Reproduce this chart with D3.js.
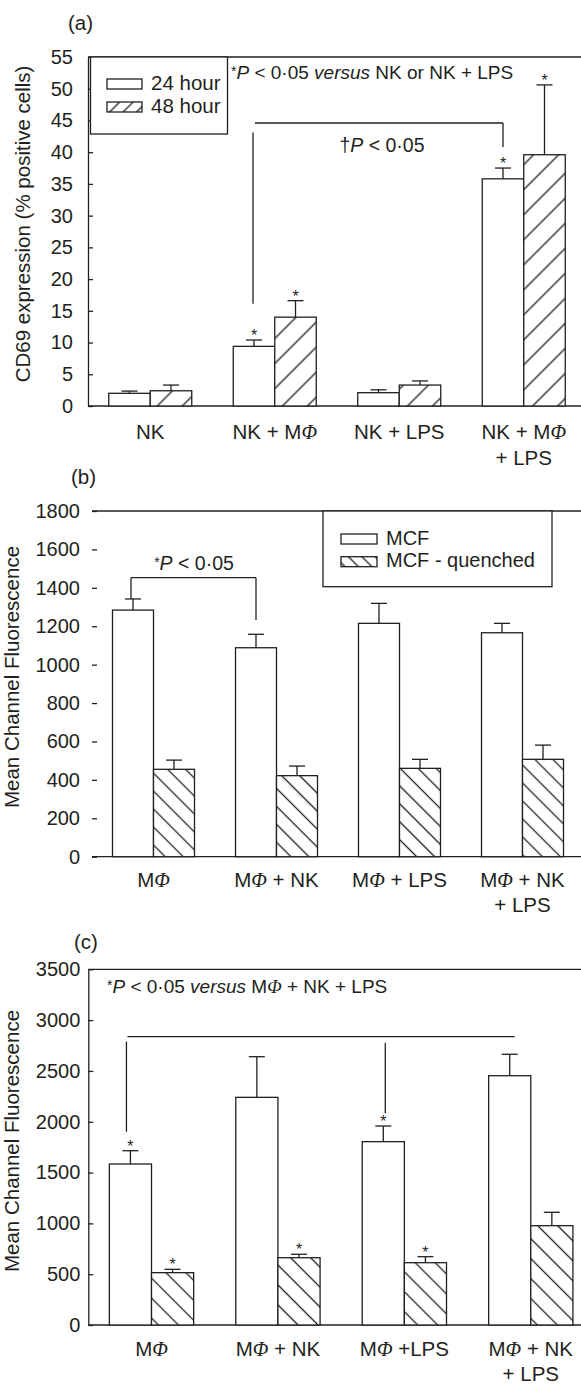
<!DOCTYPE html>
<html>
<head>
<meta charset="utf-8">
<script src="https://cdn.jsdelivr.net/npm/d3@7"></script>
<style>
  body { margin: 0; background: #fff; }
  text { font-family: "Liberation Sans", Arial, sans-serif; fill: #231f20; }
</style>
</head>
<body>
<svg id="chart"></svg>
<script>
// ---- panel (a): CD69 expression, % positive cells
const groupsA = ["NK", "NK + MΦ", "NK + LPS", "NK + MΦ + LPS"];
const labelsA = [["NK"], ["NK + MΦ"], ["NK + LPS"], ["NK + MΦ", "+ LPS"]];
const ticksA = [0, 5, 10, 15, 20, 25, 30, 35, 40, 45, 50, 55];
const h24 = [2.0, 9.4, 2.1, 35.8];
const h24Err = [0.35, 1.0, 0.45, 1.7];
const h24Star = [false, true, false, true];
const h48 = [2.4, 14.0, 3.3, 39.6];
const h48Err = [0.9, 2.6, 0.65, 11.0];
const h48Star = [false, true, false, true];

// ---- panel (b): mean channel fluorescence
const groupsB = ["MΦ", "MΦ + NK", "MΦ + LPS", "MΦ + NK + LPS"];
const labelsB = [["MΦ"], ["MΦ + NK"], ["MΦ + LPS"], ["MΦ + NK", "+ LPS"]];
const ticksB = [0, 200, 400, 600, 800, 1000, 1200, 1400, 1600, 1800];
const mcfB = [1284, 1088, 1215, 1166];
const mcfBErr = [58, 70, 104, 49];
const quenchB = [455, 422, 460, 507];
const quenchBErr = [48, 50, 47, 74];

// ---- panel (c): mean channel fluorescence
const groupsC = ["MΦ", "MΦ + NK", "MΦ +LPS", "MΦ + NK + LPS"];
const labelsC = [["MΦ"], ["MΦ + NK"], ["MΦ +LPS"], ["MΦ + NK", "+ LPS"]];
const ticksC = [0, 500, 1000, 1500, 2000, 2500, 3000, 3500];
const mcfC = [1584, 2240, 1804, 2453];
const mcfCErr = [131, 400, 154, 211];
const mcfCStar = [true, false, true, false];
const quenchC = [515, 662, 613, 977];
const quenchCErr = [33, 34, 59, 132];
const quenchCStar = [true, true, true, false];

const W = 581, H = 1384;
const ink = "#231f20";
const sw = 1.3;
const font = "'Liberation Sans', Arial, sans-serif";

const svg = d3.select("#chart").attr("width", W).attr("height", H);
svg.append("rect").attr("width", W).attr("height", H).attr("fill", "#fff");
const defs = svg.append("defs");

function hatch(id, gap, angle) {
  const p = defs.append("pattern")
    .attr("id", id)
    .attr("patternUnits", "userSpaceOnUse")
    .attr("width", gap).attr("height", gap)
    .attr("patternTransform", `rotate(${angle})`);
  p.append("rect").attr("width", gap).attr("height", gap).attr("fill", "#fff");
  p.append("line")
    .attr("x1", gap / 2).attr("x2", gap / 2)
    .attr("y1", 0).attr("y2", gap)
    .attr("stroke", ink).attr("stroke-width", sw);
}
hatch("fwdA", 17.7, 45);
hatch("fwdLeg", 9.5, 45);
hatch("backB", 12.7, -45);
hatch("backLeg", 9.5, -45);
hatch("backC", 14.1, -45);

// text made of pieces: {t, i (italic), serif, size, dy}
function rich(sel, parts) {
  parts.forEach(p => {
    const ts = sel.append("tspan").text(p.t);
    if (p.i) ts.attr("font-style", "italic");
    if (p.serif) ts.attr("font-family", "'Liberation Serif', serif");
    if (p.size) ts.attr("font-size", p.size);
    if (p.dy) ts.attr("dy", p.dy);
  });
  return sel;
}
// split a label so that the Φ is set in italic
function phiParts(str) {
  const out = [];
  str.split("Φ").forEach((s, k) => {
    if (k > 0) out.push({ t: "Φ", i: true, serif: true });
    if (s) out.push({ t: s });
  });
  return out;
}

function line(g, x1, y1, x2, y2) {
  return g.append("line")
    .attr("x1", x1).attr("y1", y1).attr("x2", x2).attr("y2", y2)
    .attr("stroke", ink).attr("stroke-width", sw);
}

function drawPanel(p) {
  const g = svg.append("g");
  const x = d3.scaleBand().domain(p.groups).range(p.xRange).paddingInner(1 / 3).paddingOuter(1 / 6);
  const xs = d3.scaleBand().domain(p.series.map(s => s.key)).range([0, x.bandwidth()]);
  const y = d3.scaleLinear().domain([0, p.yMax]).range(p.yRange);
  const left = p.xRange[0];

  // frame: top and bottom lines run to the right edge
  line(g, left, y(p.yMax), W, y(p.yMax));
  line(g, left, y(0), W, y(0));

  const ax = g.append("g")
    .attr("transform", `translate(${left},0)`)
    .call(d3.axisLeft(y).tickValues(p.ticks).tickFormat(d3.format("d"))
      .tickSizeInner(-5).tickSizeOuter(0).tickPadding(p.tickPad));
  ax.select(".domain").attr("stroke", p.axisLine ? ink : "none").attr("stroke-width", sw);
  ax.selectAll(".tick line").attr("stroke", ink).attr("stroke-width", sw);
  ax.selectAll(".tick text")
    .attr("font-size", 20).attr("font-family", font).attr("fill", ink);

  // y label
  g.append("text")
    .attr("transform", `translate(${p.yLabelX},${p.yLabelY}) rotate(-90)`)
    .attr("text-anchor", "middle")
    .attr("font-size", 20.5)
    .text(p.yLabel);

  // panel letter
  g.append("text").attr("x", p.letterX).attr("y", p.letterY).attr("font-size", 20.5).text(p.letter);

  // bars with upper error bars
  p.series.forEach(s => {
    const gs = g.append("g");
    const rows = p.groups.map((grp, i) => ({
      x0: x(grp) + xs(s.key),
      v: s.values[i],
      e: s.err[i],
      star: s.stars ? s.stars[i] : false
    }));
    const bw = xs.bandwidth();
    gs.selectAll("rect").data(rows).join("rect")
      .attr("x", d => d.x0).attr("y", d => y(d.v))
      .attr("width", bw).attr("height", d => y(0) - y(d.v))
      .attr("fill", s.fill).attr("stroke", ink).attr("stroke-width", sw);
    gs.selectAll(".err").data(rows).join("line").attr("class", "err")
      .attr("x1", d => d.x0 + bw / 2).attr("x2", d => d.x0 + bw / 2)
      .attr("y1", d => y(d.v)).attr("y2", d => y(d.v + d.e))
      .attr("stroke", ink).attr("stroke-width", sw);
    gs.selectAll(".cap").data(rows).join("line").attr("class", "cap")
      .attr("x1", d => d.x0 + bw / 2 - 8).attr("x2", d => d.x0 + bw / 2 + 8)
      .attr("y1", d => y(d.v + d.e)).attr("y2", d => y(d.v + d.e))
      .attr("stroke", ink).attr("stroke-width", sw);
    gs.selectAll(".star").data(rows.filter(d => d.star)).join("text").attr("class", "star")
      .attr("x", d => d.x0 + bw / 2).attr("y", d => y(d.v + d.e) + 1)
      .attr("text-anchor", "middle").attr("font-size", 16)
      .text("*");
  });

  // category labels
  p.labels.forEach((lines, i) => {
    const cx = x(p.groups[i]) + x.bandwidth() / 2;
    lines.forEach((ln, k) => {
      const t = g.append("text")
        .attr("x", cx).attr("y", p.labelY + k * p.labelGap)
        .attr("text-anchor", "middle").attr("font-size", 20.5);
      rich(t, phiParts(ln));
    });
  });

  return { g, x, xs, y };
}

// ================= panel (a)
const pa = drawPanel({
  letter: "(a)", letterX: 68, letterY: 30,
  groups: groupsA, labels: labelsA, labelY: 439, labelGap: 26,
  xRange: [88, 586], yRange: [406, 57], yMax: 55, ticks: ticksA, tickPad: 15, axisLine: true,
  yLabel: "CD69 expression (% positive cells)", yLabelX: 30, yLabelY: 224,
  series: [
    { key: "24", values: h24, err: h24Err, stars: h24Star, fill: "#fff" },
    { key: "48", values: h48, err: h48Err, stars: h48Star, fill: "url(#fwdA)" }
  ]
});
{
  const { g, x, xs, y } = pa;
  const c1 = x(groupsA[1]) + xs("24") + xs.bandwidth() / 2;
  const c3 = x(groupsA[3]) + xs("24") + xs.bandwidth() / 2;
  line(g, c1 + 1, y(44.6), c3, y(44.6));
  line(g, c1 - 1, y(43.1), c1 - 1, y(16.1));
  line(g, c3, y(44.6), c3, y(40.8));
  rich(g.append("text").attr("x", 382).attr("y", 152).attr("text-anchor", "middle").attr("font-size", 19.5),
    [{ t: "†" }, { t: "P", i: true }, { t: " < 0·05" }]);
  rich(g.append("text").attr("x", 231).attr("y", 79).attr("font-size", 19),
    [{ t: "*", size: 14, dy: -3 }, { t: "P", i: true, dy: 3 }, { t: " < 0·05 " }, { t: "versus", i: true }, { t: " NK or NK + LPS" }]);
  // legend
  const lg = g.append("g");
  lg.append("rect").attr("x", 90.5).attr("y", 57).attr("width", 137).attr("height", 77)
    .attr("fill", "#fff").attr("stroke", ink).attr("stroke-width", sw);
  const legA = [{ name: "24 hour", fill: "#fff" }, { name: "48 hour", fill: "url(#fwdLeg)" }];
  legA.forEach((d, k) => {
    lg.append("rect").attr("x", 107).attr("y", 79 + k * 23).attr("width", 35).attr("height", 10)
      .attr("fill", d.fill).attr("stroke", ink).attr("stroke-width", sw);
    lg.append("text").attr("x", 151).attr("y", 89.5 + k * 23).attr("font-size", 20.5).text(d.name);
  });
}

// ================= panel (b)
const pb = drawPanel({
  letter: "(b)", letterX: 71, letterY: 484,
  groups: groupsB, labels: labelsB, labelY: 887, labelGap: 25,
  xRange: [92, 584], yRange: [856.7, 511], yMax: 1800, ticks: ticksB, tickPad: 12, axisLine: false,
  yLabel: "Mean Channel Fluorescence", yLabelX: 19, yLabelY: 677,
  series: [
    { key: "mcf", values: mcfB, err: mcfBErr, fill: "#fff" },
    { key: "q", values: quenchB, err: quenchBErr, fill: "url(#backB)" }
  ]
});
{
  const { g, x, xs, y } = pb;
  const c0 = x(groupsB[0]) + xs("mcf") + xs.bandwidth() / 2;
  const c1 = x(groupsB[1]) + xs("mcf") + xs.bandwidth() / 2;
  line(g, c0 - 2, y(1453), c1, y(1453));
  line(g, c0 - 2, y(1453), c0 - 2, y(mcfB[0] + mcfBErr[0]));
  line(g, c1, y(1453), c1, y(1232));
  rich(g.append("text").attr("x", 194).attr("y", 570).attr("text-anchor", "middle").attr("font-size", 19.5),
    [{ t: "*", size: 14, dy: -3 }, { t: "P", i: true, dy: 3 }, { t: " < 0·05" }]);
  const lg = g.append("g");
  lg.append("rect").attr("x", 323).attr("y", 511).attr("width", 229).attr("height", 75.7)
    .attr("fill", "#fff").attr("stroke", ink).attr("stroke-width", sw);
  const legB = [{ name: "MCF", fill: "#fff" }, { name: "MCF - quenched", fill: "url(#backLeg)" }];
  legB.forEach((d, k) => {
    lg.append("rect").attr("x", 341).attr("y", 534 + k * 22.7).attr("width", 36).attr("height", 10)
      .attr("fill", d.fill).attr("stroke", ink).attr("stroke-width", sw);
    lg.append("text").attr("x", 386).attr("y", 544.5 + k * 22.7).attr("font-size", 20).text(d.name);
  });
}

// ================= panel (c)
const pc = drawPanel({
  letter: "(c)", letterX: 74, letterY: 949,
  groups: groupsC, labels: labelsC, labelY: 1356, labelGap: 25,
  xRange: [88.3, 594], yRange: [1325, 969.3], yMax: 3500, ticks: ticksC, tickPad: 8, axisLine: true,
  yLabel: "Mean Channel Fluorescence", yLabelX: 19, yLabelY: 1141,
  series: [
    { key: "mcf", values: mcfC, err: mcfCErr, stars: mcfCStar, fill: "#fff" },
    { key: "q", values: quenchC, err: quenchCErr, stars: quenchCStar, fill: "url(#backC)" }
  ]
});
{
  const { g, x, xs, y } = pc;
  const cx = i => x(groupsC[i]) + xs("mcf") + xs.bandwidth() / 2;
  line(g, cx(0) - 3, y(2837), cx(3) + 5, y(2837));
  line(g, cx(0) - 4, y(2788), cx(0) - 4, y(1902));
  line(g, cx(2) + 2, y(2778), cx(2) + 2, y(2083));
  rich(g.append("text").attr("x", 107).attr("y", 993).attr("font-size", 19),
    [{ t: "*", size: 14, dy: -3 }, { t: "P", i: true, dy: 3 }, { t: " < 0·05 " }, { t: "versus", i: true },
     { t: " M" }, { t: "Φ", i: true, serif: true }, { t: " + NK + LPS" }]);
}
</script>
</body>
</html>
